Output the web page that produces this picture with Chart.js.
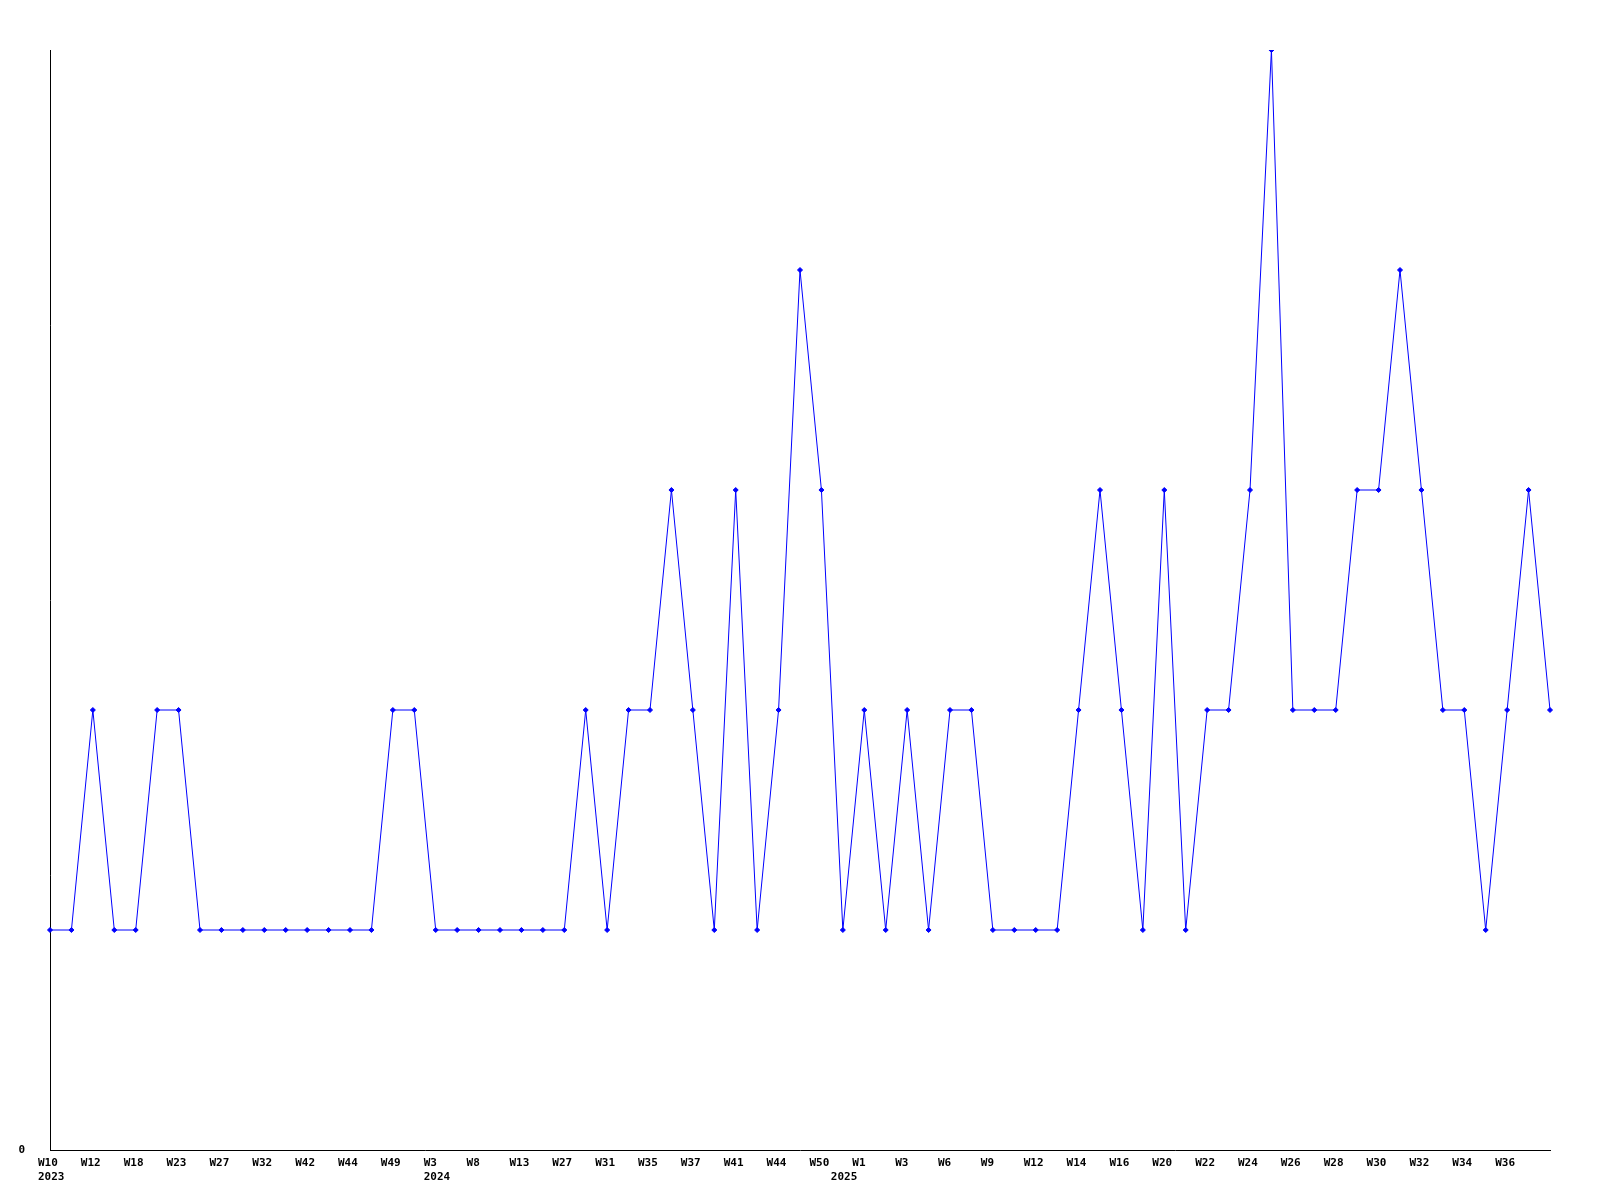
<!DOCTYPE html>
<html>
<head>
<meta charset="utf-8">
<title>Weekly count</title>
<script src="https://cdn.jsdelivr.net/npm/chart.js@4"></script>
<style>
  html, body { margin: 0; padding: 0; background: #fff; }
  canvas { display: block; }
</style>
</head>
<body>
<canvas id="chart" width="1600" height="1200"></canvas>
<script>
// week labels, one per point (only every other one is shown on the axis)
const weekLabels = [
  'W10', 'W11', 'W12', 'W15', 'W18', 'W20', 'W23', 'W25', 'W27', 'W29',
  'W32', 'W37', 'W42', 'W43', 'W44', 'W46', 'W49', 'W51', 'W3', 'W5',
  'W8', 'W10', 'W13', 'W20', 'W27', 'W29', 'W31', 'W33', 'W35', 'W36',
  'W37', 'W39', 'W41', 'W42', 'W44', 'W47', 'W50', 'W52', 'W1', 'W2',
  'W3', 'W5', 'W6', 'W7', 'W9', 'W10', 'W12', 'W13', 'W14', 'W15',
  'W16', 'W18', 'W20', 'W21', 'W22', 'W23', 'W24', 'W25', 'W26', 'W27',
  'W28', 'W29', 'W30', 'W31', 'W32', 'W33', 'W34', 'W35', 'W36', 'W37',
  'W38'
];

// where a year label sits on the axis
const yearIndex = [0, 18, 37];
const yearNames = ['2023', '2024', '2025'];

const counts = [
  1, 1, 2, 1, 1, 2, 2, 1, 1, 1,
  1, 1, 1, 1, 1, 1, 2, 2, 1, 1,
  1, 1, 1, 1, 1, 2, 1, 2, 2, 3,
  2, 1, 3, 1, 2, 4, 3, 1, 2, 1,
  2, 1, 2, 2, 1, 1, 1, 1, 2, 3,
  2, 1, 3, 1, 2, 2, 3, 5, 2, 2,
  2, 3, 3, 4, 3, 2, 2, 1, 2, 3,
  2
];

const yMin = 0;
const yMax = 5;

const tickFont = { family: '"DejaVu Sans Mono", monospace', size: 11, weight: 'bold', lineHeight: 1.2 };

function xTickLabel(value, index) {
  const last = weekLabels.length - 1;
  const week = (index % 2 === 0 && index !== last) ? weekLabels[index] : '';
  const y = yearIndex.indexOf(index);
  if (y >= 0) return [week, yearNames[y]];
  return week;
}

const ctx = document.getElementById('chart');
new Chart(ctx, {
  type: 'line',
  data: {
    labels: weekLabels,
    datasets: [{
      data: counts,
      borderColor: '#0000ff',
      backgroundColor: '#0000ff',
      borderWidth: 1,
      pointStyle: 'rectRot',
      pointRadius: 2.5,
      pointBorderWidth: 1,
      tension: 0,
      fill: false
    }]
  },
  options: {
    responsive: false,
    animation: false,
    devicePixelRatio: 1,
    layout: { padding: { top: 50, right: 50, left: 0, bottom: 0 } },
    plugins: {
      legend: { display: false },
      tooltip: { enabled: false }
    },
    scales: {
      x: {
        offset: false,
        grid: { display: false, drawTicks: false },
        border: { display: true, color: '#000', width: 1 },
        ticks: {
          autoSkip: false,
          maxRotation: 0,
          minRotation: 0,
          align: 'start',
          labelOffset: -12,
          padding: 7,
          color: '#000',
          font: tickFont,
          callback: xTickLabel
        },
        afterFit: (scale) => { scale.height = 50; }
      },
      y: {
        min: yMin,
        max: yMax,
        grid: { display: false, drawTicks: false },
        border: { display: true, color: '#000', width: 1 },
        ticks: {
          stepSize: 5,
          padding: 25,
          color: '#000',
          font: tickFont,
          callback: (v) => (v === 0 ? '0' : '')
        },
        afterFit: (scale) => { scale.width = 50; }
      }
    }
  }
});
</script>
</body>
</html>
